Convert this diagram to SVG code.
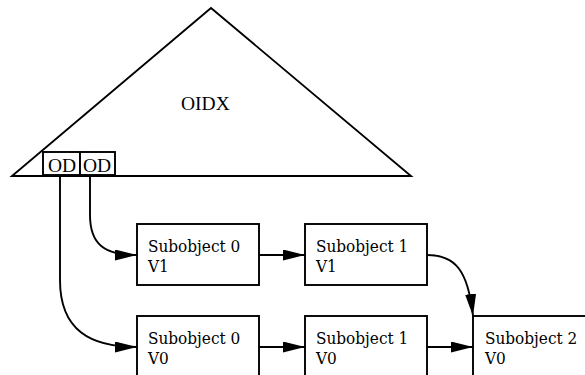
<svg xmlns="http://www.w3.org/2000/svg" width="585" height="375" viewBox="0 0 585 375">
<style>
.s{fill:#fff;stroke:#000;stroke-width:1.9}
.t{font-family:"DejaVu Serif Condensed","DejaVu Serif",serif;font-stretch:condensed;font-size:17px;fill:#000}
.tt{font-family:"Liberation Serif",serif;font-size:19.5px;fill:#000}
.c{fill:none;stroke:#000;stroke-width:1.9}
</style>
<defs>
<marker id="a" markerWidth="22" markerHeight="11" refX="22" refY="5.5" orient="auto" markerUnits="userSpaceOnUse">
<path d="M0,0 L22,5.5 L0,11 Z" fill="#000"/>
</marker>
</defs>
<g id="oidx">
<path class="s" d="M211,8 L411,176 L12,176 Z"/>
<text class="tt" x="181" y="110">OIDX</text>
</g>
<g id="od1">
<rect class="s" x="43" y="152" width="37" height="23"/>
<text class="tt" x="48" y="172">OD</text>
</g>
<g id="od2">
<rect class="s" x="80" y="152" width="35" height="23"/>
<text class="tt" x="83" y="172">OD</text>
</g>
<g id="s0v1">
<rect class="s" x="137" y="224" width="122" height="61"/>
<text class="t" x="148" y="252">Subobject 0</text>
<text class="t" x="148" y="272">V1</text>
</g>
<g id="s1v1">
<rect class="s" x="305" y="224" width="122" height="61"/>
<text class="t" x="316" y="252">Subobject 1</text>
<text class="t" x="316" y="272">V1</text>
</g>
<g id="s0v0">
<rect class="s" x="137" y="316" width="122" height="61"/>
<text class="t" x="148" y="344">Subobject 0</text>
<text class="t" x="148" y="364">V0</text>
</g>
<g id="s1v0">
<rect class="s" x="305" y="316" width="122" height="61"/>
<text class="t" x="316" y="344">Subobject 1</text>
<text class="t" x="316" y="364">V0</text>
</g>
<g id="s2v0">
<rect class="s" x="473" y="316" width="122" height="61"/>
<text class="t" x="485" y="344">Subobject 2</text>
<text class="t" x="485" y="364">V0</text>
</g>
<g id="connectors">
<path class="c" d="M90,175 L90,215 C90,245 105,255 137,255" marker-end="url(#a)"/>
<path class="c" d="M60,175 L60,280 C60,330 90,347 137,347" marker-end="url(#a)"/>
<path class="c" d="M259,255 L305,255" marker-end="url(#a)"/>
<path class="c" d="M259,347 L305,347" marker-end="url(#a)"/>
<path class="c" d="M427,347 L473,347" marker-end="url(#a)"/>
<path class="c" d="M427,255 C455,255 468,270 473,316" marker-end="url(#a)"/>
</g>
</svg>
